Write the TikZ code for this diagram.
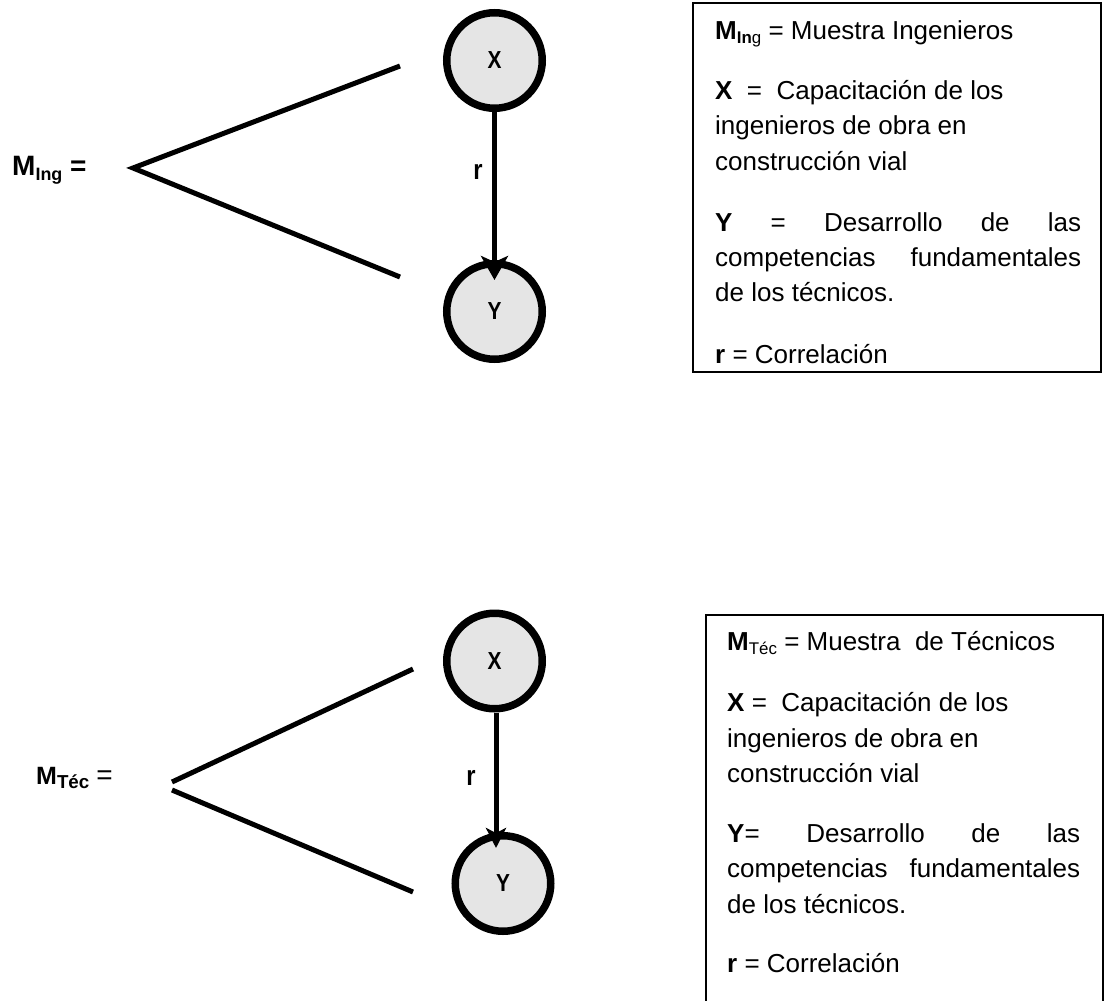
\documentclass[tikz,border=0pt]{standalone}
\usepackage{fontspec}
\setmainfont{Liberation Sans}
\usetikzlibrary{arrows.meta}
\newcommand{\lsub}[2][0.65]{\raisebox{-0.35ex}{\scalebox{#1}{#2}}}
\begin{document}
\begin{tikzpicture}[x=1pt,y=-1pt,
  legline/.style={line width=5pt},
  var/.style={circle,draw,line width=7.5pt,fill=black!10,minimum size=95.5pt,inner sep=0pt,
    font=\fontsize{22}{24}\selectfont\bfseries},
  arr/.style={line width=5pt,-{Stealth[length=24pt,width=27pt,inset=6pt]}},
  arrb/.style={line width=5pt,-{Stealth[length=20pt,width=20pt,inset=5pt]}},
  boxtxt/.style={anchor=base west,inner sep=0pt,font=\fontsize{26}{35.5}\selectfont},
  lbl/.style={inner sep=0pt,font=\fontsize{28}{30}\selectfont\bfseries},
  lblb/.style={inner sep=0pt,font=\fontsize{25}{30}\selectfont\bfseries},
  rlbl/.style={inner sep=0pt,font=\fontsize{28}{30}\selectfont\bfseries},
  frame/.style={line width=2pt}]
\useasboundingbox (0,0) rectangle (1104,1001);

% ---------- top diagram ----------
\node[lbl,anchor=west] (m1) at (12,170) {M\lsub[0.64]{Ing} =};
\coordinate (a1) at (133,168);
\coordinate (u1) at (400,66);
\coordinate (d1) at (400,277);
\draw[legline] (u1) -- (a1) -- (d1);
\node[var] (x1) at (494.5,60.5) {\scalebox{0.95}[1.12]{X}};
\node[var] (y1) at (494.5,311.5) {\scalebox{0.95}[1.12]{Y}};
\draw[arr] (x1.south) -- ([yshift=-20pt]y1.north);
\node[rlbl] (r1) at (478,172) {\scalebox{0.85}[1]{r}};

\draw[frame] (693,3) rectangle (1101,372);
\node[boxtxt] (t1) at (715,39) {\parbox[t]{366pt}{%
\textbf{M}\lsub{\textbf{In}g} = Muestra Ingenieros\par\vspace{25pt}
\textbf{X} \ = \ Capacitación de los\\
ingenieros de obra en\\
construcción vial\par\vspace{25pt}
\makebox[366pt][s]{\textbf{Y} = Desarrollo de las}\\
\makebox[366pt][s]{competencias fundamentales}\\
de los técnicos.\par\vspace{26pt}
\textbf{r} = Correlación}};

% ---------- bottom diagram ----------
\node[lblb,anchor=west] (m2) at (36,778) {M\lsub[0.75]{Téc} {\mdseries\fontsize{28}{30}\selectfont=}};
\coordinate (a2u) at (172,782);
\coordinate (a2d) at (172,790);
\coordinate (u2) at (413,669);
\coordinate (d2) at (413,892);
\draw[legline] (a2u) -- (u2);
\draw[legline] (a2d) -- (d2);
\node[var] (x2) at (494.5,661) {\scalebox{0.95}[1.12]{X}};
\node[var] (y2) at (503,883.5) {\scalebox{0.95}[1.12]{Y}};
\draw[arrb] (x2.south -| 496,0) -- ([yshift=-16pt]y2.north -| 496,0);
\node[rlbl] (r2) at (471,778) {\scalebox{0.85}[1]{r}};

\draw[frame] (706,1002) -- (706,615) -- (1103,615) -- (1103,1002);
\node[boxtxt] (t2) at (727,650) {\parbox[t]{353pt}{%
\textbf{M}\lsub{Téc} = Muestra \ de Técnicos\par\vspace{26pt}
\textbf{X} = \ Capacitación de los\\
ingenieros de obra en\\
construcción vial\par\vspace{24pt}
\makebox[353pt][s]{\textbf{Y}= Desarrollo de las}\\
\makebox[353pt][s]{competencias fundamentales}\\
de los técnicos.\par\vspace{24pt}
\textbf{r} = Correlación}};
\end{tikzpicture}
\end{document}
